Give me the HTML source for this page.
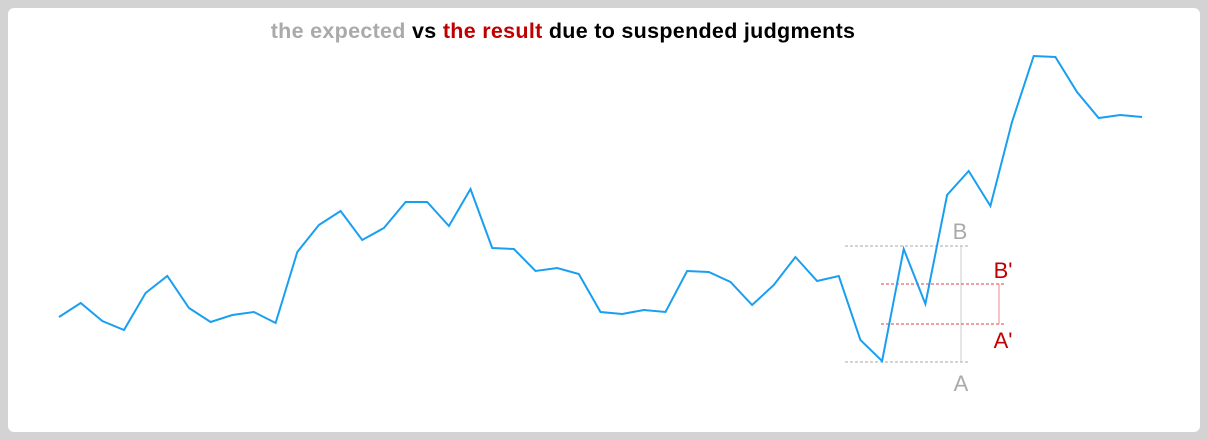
<!DOCTYPE html>
<html><head><meta charset="utf-8"><style>
html,body{margin:0;padding:0;background:#d3d3d3;}
#frame{position:absolute;left:8px;top:8px;width:1192px;height:424px;background:#fff;border-radius:6px;}
svg{position:absolute;left:0;top:0;}
text{font-family:"Liberation Sans",sans-serif;}
</style></head><body>
<div id="frame"></div>
<svg id="chart" width="1208" height="440">
<text x="563" y="38" text-anchor="middle" font-size="21.5" font-weight="bold" letter-spacing="0.3"><tspan fill="#aaaaaa">the expected</tspan><tspan fill="#000"> vs </tspan><tspan fill="#c00000">the result</tspan><tspan fill="#000"> due to suspended judgments</tspan></text>
<g id="annot">
<line x1="845" y1="246" x2="968" y2="246" stroke="#aaa" stroke-dasharray="3,2"/>
<line x1="845" y1="362" x2="968" y2="362" stroke="#aaa" stroke-dasharray="3,2"/>
<line x1="961" y1="246" x2="961" y2="362" stroke="#ccc"/>
<line x1="881" y1="284" x2="1006" y2="284" stroke="#e04040" stroke-dasharray="3,2"/>
<line x1="881" y1="324" x2="1006" y2="324" stroke="#e04040" stroke-dasharray="3,2"/>
<line x1="999" y1="284" x2="999" y2="324" stroke="#e88"/>
<text x="960" y="239" text-anchor="middle" font-size="22" fill="#aaa">B</text>
<text x="1003" y="278" text-anchor="middle" font-size="22" fill="#c00000">B'</text>
<text x="1003" y="348" text-anchor="middle" font-size="22" fill="#c00000">A'</text>
<text x="961" y="391" text-anchor="middle" font-size="22" fill="#aaa">A</text>
</g>
</svg>
<script>
const values = [83,97,79,70,107,124,92,78,85,88,77,148,175,189,160,172,198,198,174,211,152,151,129,132,126,88,86,90,88,129,128,118,95,115,143,119,124,60,39,151,96,205,229,194,278,344,343,308,282,285,283];
const xScale = i => 59 + i * (1142 - 59) / (values.length - 1);
const yScale = v => 400 - v;
const svg = document.getElementById('chart');
const pts = values.map((v,i)=>xScale(i).toFixed(1)+','+yScale(v).toFixed(1)).join(' ');
const line = document.createElementNS('http://www.w3.org/2000/svg','polyline');
line.setAttribute('points', pts);
line.setAttribute('fill','none');
line.setAttribute('stroke','#1a9ff0');
line.setAttribute('stroke-width','2');
line.setAttribute('stroke-linejoin','miter');


svg.appendChild(line);
</script>
</body></html>
